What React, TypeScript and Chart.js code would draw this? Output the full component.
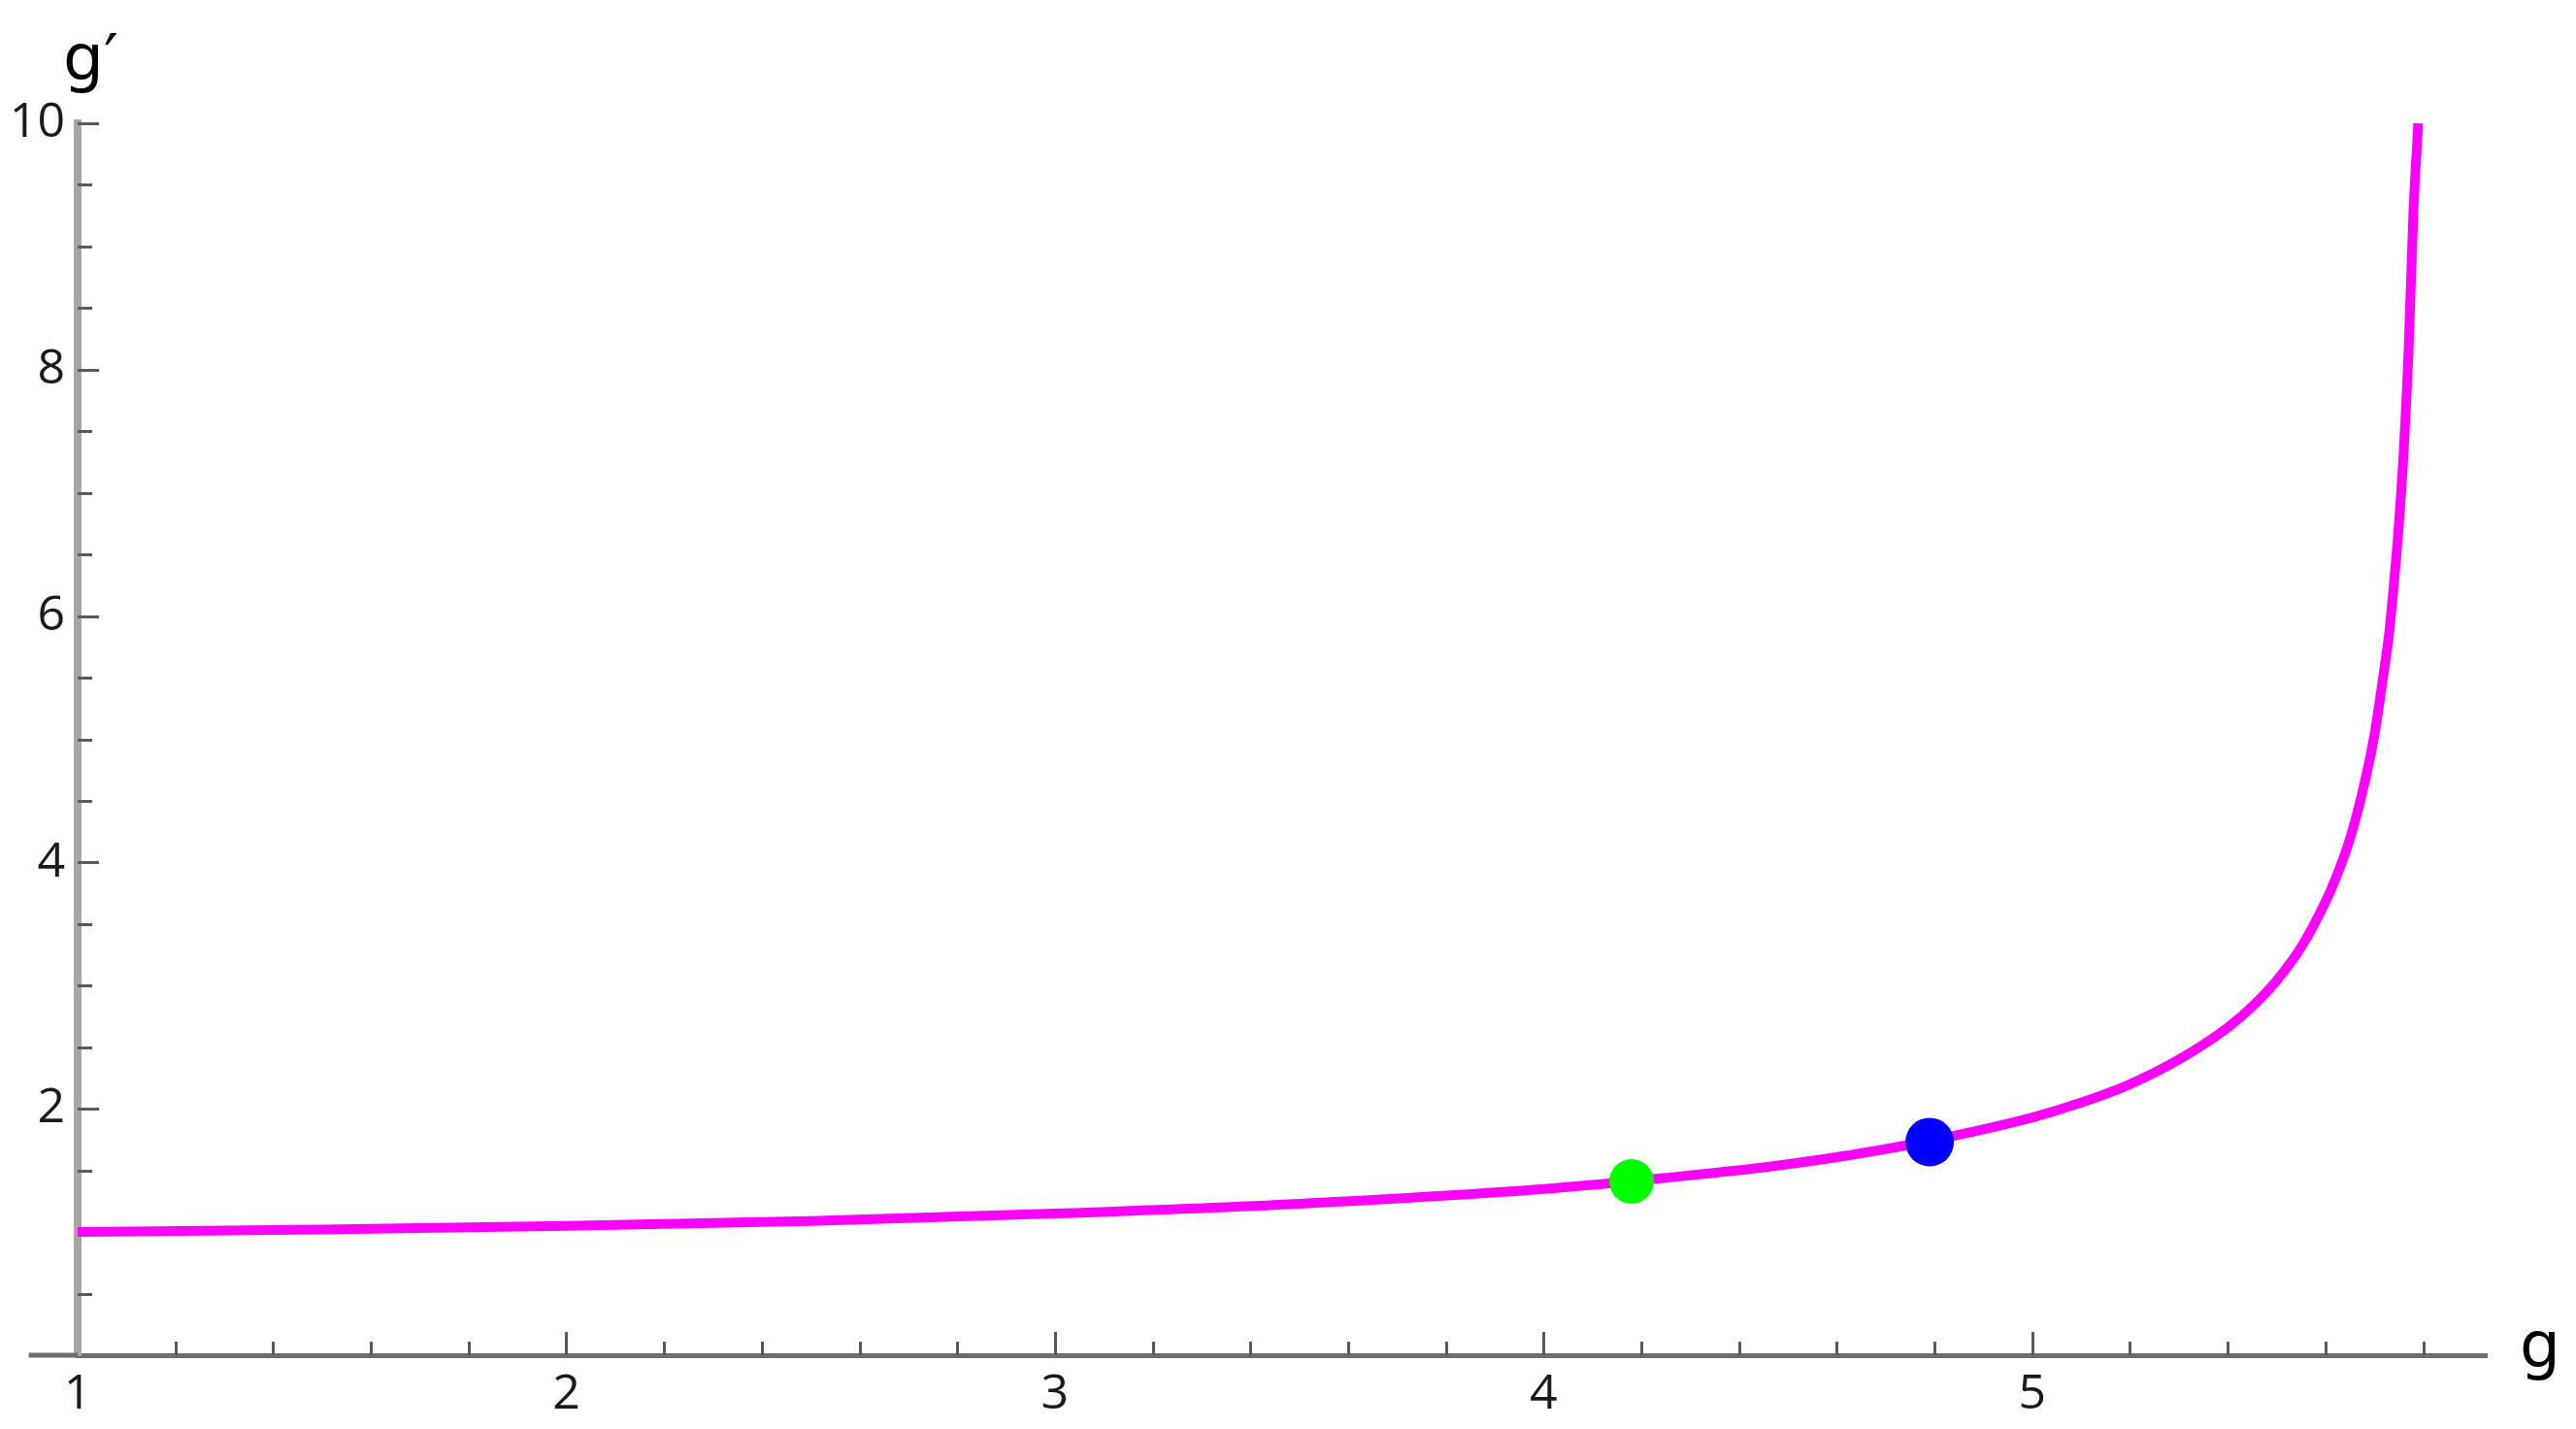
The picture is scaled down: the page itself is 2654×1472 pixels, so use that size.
import React, { useEffect, useRef } from "react";
import { Chart, registerables } from "chart.js";

Chart.register(...registerables);

// g values (x) and g' values (y)
const gValues = [1, 1.5, 2, 2.5, 3, 3.5, 4, 4.25, 4.5, 4.75, 5, 5.1, 5.2, 5.3, 5.4, 5.45, 5.5, 5.55, 5.6, 5.62, 5.65, 5.675, 5.7, 5.72, 5.73, 5.74, 5.75, 5.76, 5.77, 5.78, 5.79];
const gPrimeValues = [1.0, 1.02, 1.05, 1.09, 1.15, 1.23, 1.35, 1.44, 1.55, 1.71, 1.93, 2.05, 2.2, 2.4, 2.66, 2.83, 3.04, 3.31, 3.68, 3.86, 4.19, 4.56, 5.03, 5.56, 5.85, 6.26, 6.73, 7.33, 8.14, 9.28, 10];

// marked points
const greenPoint = { x: 4.18, y: 1.41 };
const bluePoint = { x: 4.79, y: 1.73 };

// axis ticks
const xTickValues = [1, 2, 3, 4, 5];
const yTickValues = [2, 4, 6, 8, 10];
const xAxisLabel = "g";
const yAxisLabel = "g\u2032";

const mmaAxes = {
  id: "mmaAxes",
  beforeDatasetsDraw(chart: any) {
    const { ctx, chartArea, scales } = chart;
    const x = scales.x;
    const y = scales.y;
    const y0 = y.getPixelForValue(0);
    const x0 = chartArea.left;
    ctx.save();
    // x axis extends a little left of the y axis
    ctx.strokeStyle = "#6e6e6e";
    ctx.lineWidth = 5;
    ctx.beginPath();
    ctx.moveTo(x.getPixelForValue(0.9), y0);
    ctx.lineTo(x0, y0);
    ctx.stroke();
    // inward ticks
    ctx.strokeStyle = "#5a5a5a";
    ctx.lineWidth = 3;
    for (let i = 1; i <= 24; i++) {
      const v = 1 + i * 0.2;
      const px = Math.round(x.getPixelForValue(v)) + 0.5;
      const len = i % 5 === 0 ? 24 : 14;
      ctx.beginPath();
      ctx.moveTo(px, y0);
      ctx.lineTo(px, y0 - len);
      ctx.stroke();
    }
    for (let i = 1; i <= 20; i++) {
      const v = i * 0.5;
      const py = Math.round(y.getPixelForValue(v)) + 0.5;
      const len = i % 4 === 0 ? 22 : 15;
      ctx.beginPath();
      ctx.moveTo(x0, py);
      ctx.lineTo(x0 + len, py);
      ctx.stroke();
    }
    ctx.restore();
  },
  afterDraw(chart: any) {
    const { ctx, chartArea, scales } = chart;
    const y0 = scales.y.getPixelForValue(0);
    ctx.save();
    ctx.fillStyle = "#000";
    ctx.font = '66px "DejaVu Sans"';
    ctx.textAlign = "left";
    ctx.textBaseline = "alphabetic";
    ctx.fillText(yAxisLabel, chartArea.left - 15, chartArea.top - 45);
    ctx.fillText(xAxisLabel, chartArea.right + 34, y0 + 12);
    ctx.restore();
  },
};

export default function App() {
  const canvasRef = useRef<HTMLCanvasElement | null>(null);

  useEffect(() => {
    if (!canvasRef.current) return;
    const curve = gValues.map((g, i) => ({ x: g, y: gPrimeValues[i] }));
    const chart = new Chart(canvasRef.current, {
      type: "scatter",
      data: {
        datasets: [
          {
            data: [greenPoint],
            backgroundColor: "#00ff00",
            borderColor: "#00ff00",
            pointRadius: 23,
            pointBorderWidth: 0,
          },
          {
            data: [bluePoint],
            backgroundColor: "#0000ff",
            borderColor: "#0000ff",
            pointRadius: 25,
            pointBorderWidth: 0,
          },
          {
            data: curve,
            showLine: true,
            borderColor: "#ff00ff",
            borderWidth: 10,
            pointRadius: 0,
            cubicInterpolationMode: "monotone",
            clip: false,
          } as any,
        ],
      },
      options: {
        animation: false,
        responsive: true,
        maintainAspectRatio: false,
        layout: { padding: { left: 8, top: 127, right: 92, bottom: 6 } },
        plugins: { legend: { display: false }, tooltip: { enabled: false } },
        scales: {
          x: {
            type: "linear",
            min: 1,
            max: 5.93,
            afterFit: (s: any) => {
              s.height = 70;
            },
            afterBuildTicks: (s: any) => {
              s.ticks = xTickValues.map((v) => ({ value: v }));
            },
            grid: { display: false, drawTicks: false },
            border: { display: true, color: "#6e6e6e", width: 5 },
            ticks: {
              padding: 11,
              color: "#1a1a1a",
              font: { family: '"Open Sans"', size: 50 },
              maxRotation: 0,
              autoSkip: false,
            },
          },
          y: {
            type: "linear",
            min: 0,
            max: 10,
            afterFit: (s: any) => {
              s.width = 72;
            },
            afterBuildTicks: (s: any) => {
              s.ticks = yTickValues.map((v) => ({ value: v }));
            },
            grid: { display: false, drawTicks: false },
            border: { display: true, color: "#a5a5a5", width: 8 },
            ticks: {
              padding: 13,
              color: "#1a1a1a",
              font: { family: '"Open Sans"', size: 50 },
              autoSkip: false,
            },
          },
        },
      },
      plugins: [mmaAxes],
    });
    return () => chart.destroy();
  }, []);

  return (
    <div style={{ position: "fixed", left: 0, top: 0, width: 2654, height: 1472, background: "#fff" }}>
      <canvas ref={canvasRef} />
    </div>
  );
}
